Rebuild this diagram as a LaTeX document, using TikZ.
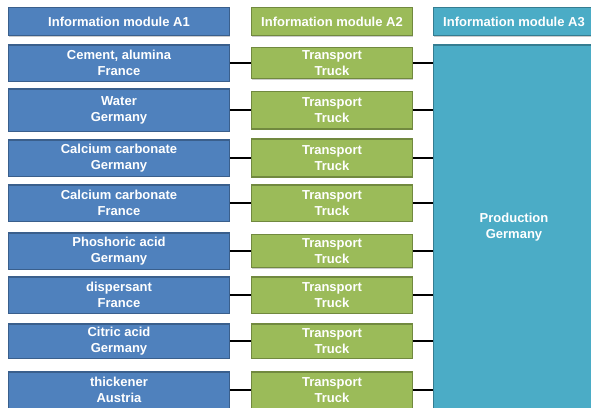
\documentclass[tikz,border=0pt]{standalone}
\usepackage{fontspec}
\setmainfont{Liberation Sans}
\usetikzlibrary{shadows}

\definecolor{modblue}{HTML}{4F81BD}
\definecolor{modblueline}{HTML}{3A5F8C}
\definecolor{modgreen}{HTML}{9BBB59}
\definecolor{modgreenline}{HTML}{71893F}
\definecolor{modcyan}{HTML}{4BACC6}
\definecolor{modcyanline}{HTML}{357D91}

\begin{document}
\begin{tikzpicture}[x=1pt, y=-1pt, node distance=213pt,
                    mod box/.style={draw, line width=1.5pt, text=white, align=center, inner sep=0pt,
                      font=\fontsize{13}{16}\selectfont\bfseries,
                      drop shadow={shadow xshift=0.8pt, shadow yshift=-1.2pt, fill=black, opacity=0.2}},
                    blue node/.style={mod box, fill=modblue, draw=modblueline, minimum width=221pt},
                    green node/.style={mod box, fill=modgreen, draw=modgreenline, minimum width=161pt},
                    cyan node/.style={mod box, fill=modcyan, draw=modcyanline, minimum width=161pt},
                    link/.style={line width=1.5pt, black}]

  \useasboundingbox (0,0) rectangle (591,407);

  % headers
  \node[blue node, minimum height=28pt] (h1) at (119,21.5) {Information module A1};
  \node[green node, minimum height=28pt] (h2) [right of=h1] {Information module A2};
  \node[cyan node, minimum height=28pt, node distance=182pt] (h3) [right of=h2] {Information module A3};

  % A1 materials
  \node[blue node, minimum height=36.5pt] (b1) at (119,63) {Cement, alumina\\France};
  \node[blue node, minimum height=42.5pt] (b2) at (119,110) {Water\\Germany};
  \node[blue node, minimum height=36.5pt] (b3) at (119,158) {Calcium carbonate\\Germany};
  \node[blue node, minimum height=36.5pt] (b4) at (119,203) {Calcium carbonate\\France};
  \node[blue node, minimum height=36.5pt] (b5) at (119,251) {Phoshoric acid\\Germany};
  \node[blue node, minimum height=36.5pt] (b6) at (119,295) {dispersant\\France};
  \node[blue node, minimum height=34.5pt] (b7) at (119,341) {Citric acid\\Germany};
  \node[blue node, minimum height=36.5pt] (b8) at (119,390) {thickener\\Austria};

  % A2 transport
  \node[green node, minimum height=31pt] (g1) [right of=b1] {Transport\\Truck};
  \node[green node, minimum height=37.5pt] (g2) [right of=b2] {Transport\\Truck};
  \node[green node, minimum height=38pt] (g3) [right of=b3] {Transport\\Truck};
  \node[green node, minimum height=36.5pt] (g4) [right of=b4] {Transport\\Truck};
  \node[green node, minimum height=33pt] (g5) [right of=b5] {Transport\\Truck};
  \node[green node, minimum height=36.5pt] (g6) [right of=b6] {Transport\\Truck};
  \node[green node, minimum height=34.5pt] (g7) [right of=b7] {Transport\\Truck};
  \node[green node, minimum height=36.5pt] (g8) [right of=b8] {Transport\\Truck};

  % A3 production
  \node[cyan node, minimum height=364pt, minimum width=161pt] (prod) at (514,227) {Production\\Germany};

  \foreach \i in {1,...,8} {
    \draw[link] (b\i) -- (g\i);
    \draw[link] (g\i.east) -- (g\i.east -| prod.west);
  }

\end{tikzpicture}
\end{document}
